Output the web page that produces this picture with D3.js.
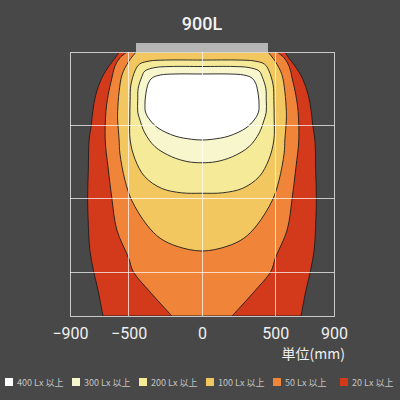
<!DOCTYPE html>
<html>
<head>
<meta charset="utf-8">
<script src="https://cdn.jsdelivr.net/npm/d3@7"></script>
<style>
  html, body { margin: 0; padding: 0; background: #484848; }
  svg { display: block; }
</style>
</head>
<body>
<div id="viz"></div>
<script>
// illuminance contours of a 900L fixture, right half only [half width mm, depth mm]
// (chart is symmetric, left half is mirrored)
const lx20 = [[565, 0], [595, 45], [630, 90], [685, 180], [725, 295], [745, 405], [755, 500], [770, 600],
  [775, 800], [780, 1000], [775, 1180], [765, 1350], [740, 1490], [710, 1620], [675, 1800]];
const lx50 = [[510, 0], [560, 40], [595, 100], [615, 180], [640, 295], [655, 405], [660, 600], [640, 790],
  [615, 995], [580, 1215], [500, 1405], [470, 1495], [355, 1635], [205, 1800]];
const lx100 = [[450, 0], [500, 65], [545, 155], [565, 270], [575, 405], [575, 465], [565, 600], [560, 690],
  [525, 875], [480, 1010], [375, 1180], [285, 1270], [170, 1325], [0, 1357]];
const lx200 = [[0, 55], [250, 55], [355, 61], [425, 82], [455, 125], [485, 225], [490, 330], [492, 450],
  [490, 600], [455, 735], [390, 850], [275, 930], [140, 960], [0, 963]];
const lx300 = [[0, 99], [218, 99], [320, 106], [390, 130], [410, 168], [435, 247], [438, 330], [438, 410],
  [423, 464], [390, 552], [320, 646], [207, 714], [95, 748], [0, 755]];
const lx400 = [[0, 150], [185, 150], [285, 157], [340, 177], [366, 213], [384, 293], [389, 360], [385, 410],
  [355, 464], [300, 518], [184, 573], [70, 595], [0, 600]];

const levels = [20, 50, 100, 200, 300, 400];
const contours = [lx20, lx50, lx100, lx200, lx300, lx400];
const colors = ["#d3391b", "#f0853a", "#f3c760", "#f5ea98", "#f8f6cd", "#ffffff"];

const xTicks = [-900, -500, 0, 500, 900];
const yGrid = [500, 1000, 1500];
const fixtureLength = 900;
const title = "900L";
const unitLabel = "単位(mm)";

const width = 400, height = 400;

const x = d3.scaleLinear().domain([-900, 900]).range([70, 334]);
const y = d3.scaleLinear().domain([0, 1800]).range([52, 316]);

const svg = d3.select("#viz").append("svg")
  .attr("width", width)
  .attr("height", height);

svg.append("rect")
  .attr("width", width)
  .attr("height", height)
  .attr("fill", "#484848");

svg.append("defs").append("clipPath")
  .attr("id", "plot-clip")
  .append("rect")
  .attr("x", x(-900))
  .attr("y", y(0))
  .attr("width", x(900) - x(-900))
  .attr("height", y(1800) - y(0));

const side = d3.line()
  .x(d => x(d[0]))
  .y(d => y(d[1]))
  .curve(d3.curveCatmullRom);

const ring = d3.line()
  .x(d => x(d[0]))
  .y(d => y(d[1]))
  .curve(d3.curveCatmullRomClosed);

function contourPath(pts) {
  const mirror = pts.slice().reverse().map(d => [-d[0], d[1]]);
  const first = pts[0], last = pts[pts.length - 1];
  // closed loop hanging below the fixture
  if (first[1] > 0) return ring(pts.concat(mirror.slice(1, -1)));
  // touches the top, closes at the centre line
  if (last[0] === 0) return side(pts.concat(mirror.slice(1))) + "Z";
  // runs out of the bottom of the plot
  return side(pts) + side(mirror).replace("M", "L") + "Z";
}

const g = svg.append("g").attr("clip-path", "url(#plot-clip)");

g.selectAll("path.contour")
  .data(contours)
  .enter()
  .append("path")
  .attr("class", "contour")
  .attr("d", d => contourPath(d))
  .attr("fill", (d, i) => colors[i])
  .attr("stroke", "#1c1c1c")
  .attr("stroke-width", 0.9);

// grid
const grid = svg.append("g")
  .attr("stroke", "#ffffff")
  .attr("stroke-opacity", 0.7)
  .attr("stroke-width", 1)
  .attr("shape-rendering", "crispEdges");

grid.selectAll("line.v")
  .data(xTicks.slice(1, -1))
  .enter()
  .append("line")
  .attr("x1", d => x(d)).attr("x2", d => x(d))
  .attr("y1", y(0)).attr("y2", y(1800));

grid.selectAll("line.h")
  .data(yGrid)
  .enter()
  .append("line")
  .attr("x1", x(-900)).attr("x2", x(900))
  .attr("y1", d => y(d)).attr("y2", d => y(d));

grid.append("rect")
  .attr("x", x(-900))
  .attr("y", y(0))
  .attr("width", x(900) - x(-900))
  .attr("height", y(1800) - y(0))
  .attr("fill", "none");

// fixture
svg.append("rect")
  .attr("x", x(-fixtureLength / 2))
  .attr("y", 43)
  .attr("width", x(fixtureLength / 2) - x(-fixtureLength / 2))
  .attr("height", y(0) - 43)
  .attr("fill", "#b5b5b5");

svg.append("text")
  .attr("x", x(0))
  .attr("y", 30)
  .attr("text-anchor", "middle")
  .attr("fill", "#f2f2f2")
  .style("font-family", "Roboto, sans-serif")
  .style("font-weight", 500)
  .style("font-size", "18px")
  .text(title);

// x axis labels
const xAxis = svg.append("g")
  .attr("transform", `translate(0,${y(1800)})`)
  .call(d3.axisBottom(x).tickValues(xTicks).tickSize(0).tickPadding(12));

xAxis.select(".domain").remove();
xAxis.selectAll("text")
  .attr("fill", "#f0f0f0")
  .style("font-family", "Roboto, sans-serif")
  .style("font-size", "16px");

svg.append("text")
  .attr("x", 345)
  .attr("y", 359)
  .attr("text-anchor", "end")
  .attr("fill", "#f0f0f0")
  .style("font-family", "'Noto Sans CJK JP', sans-serif")
  .style("font-size", "14px")
  .text(unitLabel);

// legend, brightest first
const legend = svg.append("g")
  .attr("transform", "translate(5,378)");

const items = legend.selectAll("g.item")
  .data(levels.slice().reverse())
  .enter()
  .append("g")
  .attr("class", "item")
  .attr("transform", (d, i) => `translate(${i * 67},0)`);

items.append("rect")
  .attr("width", 8)
  .attr("height", 8)
  .attr("fill", d => colors[levels.indexOf(d)]);

items.append("text")
  .attr("x", 12)
  .attr("y", 8)
  .attr("fill", "#c4c4c4")
  .style("font-family", "'Noto Sans CJK JP', sans-serif")
  .style("font-size", "9px")
  .text(d => `${d} Lx 以上`);
</script>
</body>
</html>
